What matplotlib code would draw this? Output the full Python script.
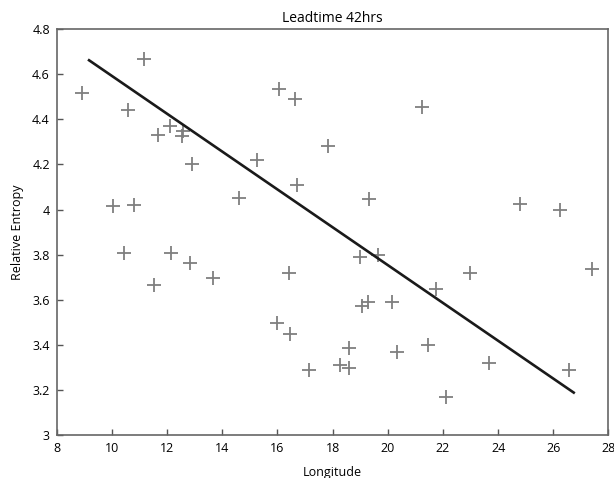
import matplotlib
matplotlib.use("Agg")
import matplotlib.pyplot as plt

# scatter points (longitude, relative entropy)
lon = [8.90, 10.03, 10.43, 10.59, 10.80, 11.17, 11.52, 11.68, 12.10, 12.13,
       12.55, 12.58, 12.83, 12.89, 13.65, 14.60, 15.24, 15.97, 16.04, 16.42,
       16.45, 16.63, 16.70, 17.15, 17.85, 18.26, 18.58, 18.58, 19.01, 19.07,
       19.30, 19.31, 19.66, 20.17, 20.33, 21.24, 21.46, 21.74, 22.10, 22.97,
       23.67, 24.78, 26.26, 26.57, 27.42]
entropy = [4.515, 4.015, 3.806, 4.44, 4.02, 4.666, 3.665, 4.33, 4.37, 3.806,
           4.327, 4.35, 3.763, 4.20, 3.696, 4.05, 4.22, 3.496, 4.534, 3.72,
           3.448, 4.49, 4.107, 3.286, 4.28, 3.311, 3.385, 3.298, 3.788, 3.573,
           3.591, 4.048, 3.80, 3.588, 3.369, 4.456, 3.397, 3.647, 3.169, 3.719,
           3.321, 4.024, 4.00, 3.289, 3.736]

# fitted trend line endpoints
fit_x = [9.17, 26.74]
fit_y = [4.662, 3.188]

plt.rcParams['font.family'] = ['Open Sans', 'DejaVu Sans']

fig = plt.figure(figsize=(6.14, 4.78), dpi=100)
ax = fig.add_axes([0.0925, 0.09, 0.8985, 0.849])

ax.plot(lon, entropy, linestyle='none', marker='+', markersize=10,
        markeredgewidth=1.3, color='#7f7f7f')
ax.plot(fit_x, fit_y, color='#1a1a1a', linewidth=1.9)

ax.set_xlim(8, 28)
ax.set_ylim(3, 4.8)
ax.set_xticks(range(8, 29, 2))
ax.set_yticks([3, 3.2, 3.4, 3.6, 3.8, 4, 4.2, 4.4, 4.6, 4.8])
ax.set_yticklabels(['3', '3.2', '3.4', '3.6', '3.8', '4', '4.2', '4.4', '4.6', '4.8'])
ax.tick_params(direction='in', length=4, width=1, color='#555555',
               labelsize=9, pad=5)

for s in ax.spines.values():
    s.set_color('#666666')
    s.set_linewidth(1.2)

ax.set_xlabel('Longitude', fontsize=9, labelpad=8)
ax.set_ylabel('Relative Entropy', fontsize=9, labelpad=6)
ax.set_title('Leadtime 42hrs', fontsize=10, pad=5)

fig.savefig('out.png', dpi=100)
